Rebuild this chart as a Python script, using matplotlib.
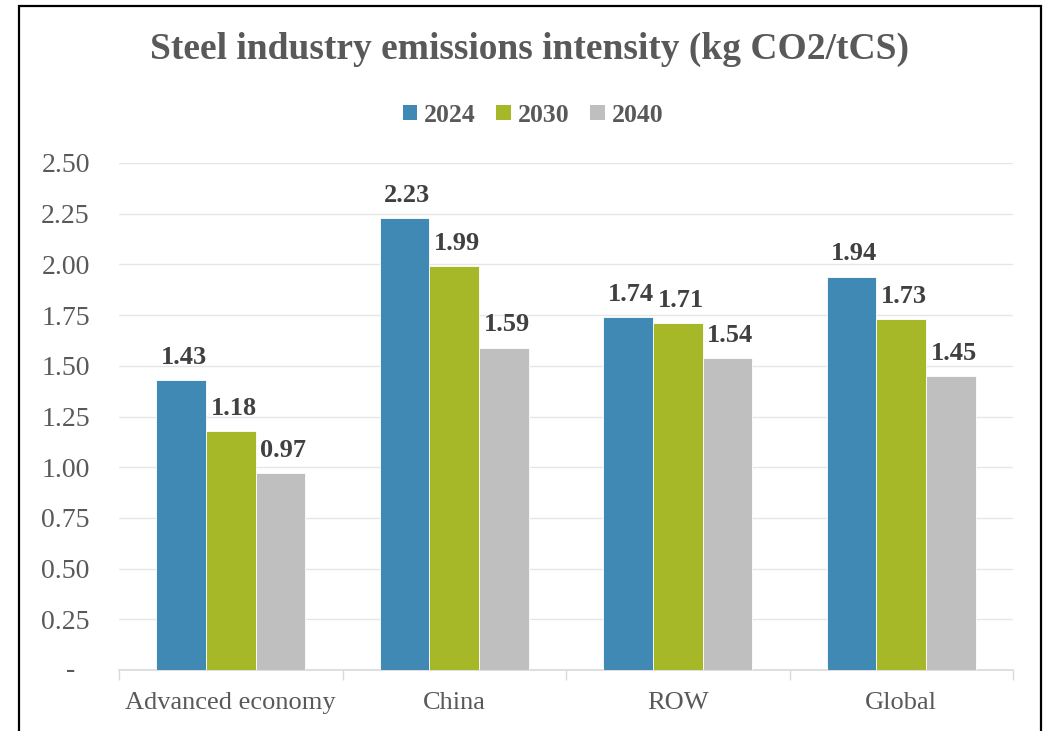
import numpy as np
import matplotlib.pyplot as plt
from matplotlib.patches import Rectangle, Patch

regions = ['Advanced economy', 'China', 'ROW', 'Global']
years = ['2024', '2030', '2040']
v2024 = [1.43, 2.23, 1.74, 1.94]
v2030 = [1.18, 1.99, 1.71, 1.73]
v2040 = [0.97, 1.59, 1.54, 1.45]
yticks = [0, 0.25, 0.5, 0.75, 1.0, 1.25, 1.5, 1.75, 2.0, 2.25, 2.5]
ytick_labels = ['-', '0.25', '0.50', '0.75', '1.00', '1.25', '1.50', '1.75', '2.00', '2.25', '2.50']

colors = ['#3f89b4', '#a6b828', '#bfbfbf']
grey_text = '#595959'
label_text = '#404040'

plt.rcParams['font.family'] = ['Liberation Serif', 'DejaVu Serif']

fig = plt.figure(figsize=(10.43, 7.31), dpi=100)
ax = fig.add_axes([119 / 1043, 1 - 670 / 731, (1013 - 119) / 1043, (670 - 163) / 731])

x = np.arange(len(regions))
w = 0.222
for i, (vals, c) in enumerate(zip([v2024, v2030, v2040], colors)):
    bars = ax.bar(x + (i - 1) * w, vals, width=w, color=c, edgecolor='white',
                  linewidth=0.6, zorder=3)
    for b, v in zip(bars, vals):
        ax.annotate(f'{v:.2f}', (b.get_x() + b.get_width() / 2, v),
                    xytext=(2, 8), textcoords='offset points', ha='center', va='bottom',
                    fontsize=19, fontweight='bold', color=label_text)

ax.set_xlim(-0.5, len(regions) - 0.5)
ax.set_ylim(0, 2.5)
ax.set_yticks(yticks)
# zero gets an accounting-style dash, drawn separately further left
ax.set_yticklabels([''] + ytick_labels[1:])
ax.text(-0.049, yticks[0], ytick_labels[0], transform=ax.get_yaxis_transform(),
        ha='right', va='center', fontsize=20, color=grey_text)
ax.yaxis.grid(True, color='#e6e6e6', linewidth=1.0, zorder=0)
ax.set_axisbelow(True)

ax.set_xticks(x)
ax.set_xticklabels(regions)
ax.set_xticks(np.arange(len(regions) + 1) - 0.5, minor=True)
ax.tick_params(axis='x', which='major', length=0, pad=16, labelsize=19, labelcolor=grey_text)
ax.tick_params(axis='x', which='minor', length=7, width=1, color='#d9d9d9')
ax.tick_params(axis='y', length=0, pad=21, labelsize=20, labelcolor=grey_text)

for s in ['top', 'right', 'left']:
    ax.spines[s].set_visible(False)
ax.spines['bottom'].set_color('#d9d9d9')
ax.spines['bottom'].set_linewidth(1.2)

fig.text(530 / 1043, 1 - 49 / 731, 'Steel industry emissions intensity (kg CO2/tCS)',
         ha='center', va='center', fontsize=27, fontweight='bold', color=grey_text)

handles = [Patch(facecolor=c, edgecolor='none') for c in colors]
fig.legend(handles, years, loc='center', bbox_to_anchor=(533 / 1043, 1 - 115 / 731),
           ncol=3, frameon=False, handlelength=0.56, handleheight=0.56, handletextpad=0.28,
           columnspacing=0.8, prop={'size': 18.5, 'weight': 'bold'}, labelcolor=grey_text)

fig.patches.append(Rectangle((19 / 1043, -0.1), (1041 - 19) / 1043, 1.1 - 6 / 731,
                             transform=fig.transFigure, fill=False, edgecolor='black',
                             linewidth=1.6))

fig.savefig('out.png', dpi=100)
